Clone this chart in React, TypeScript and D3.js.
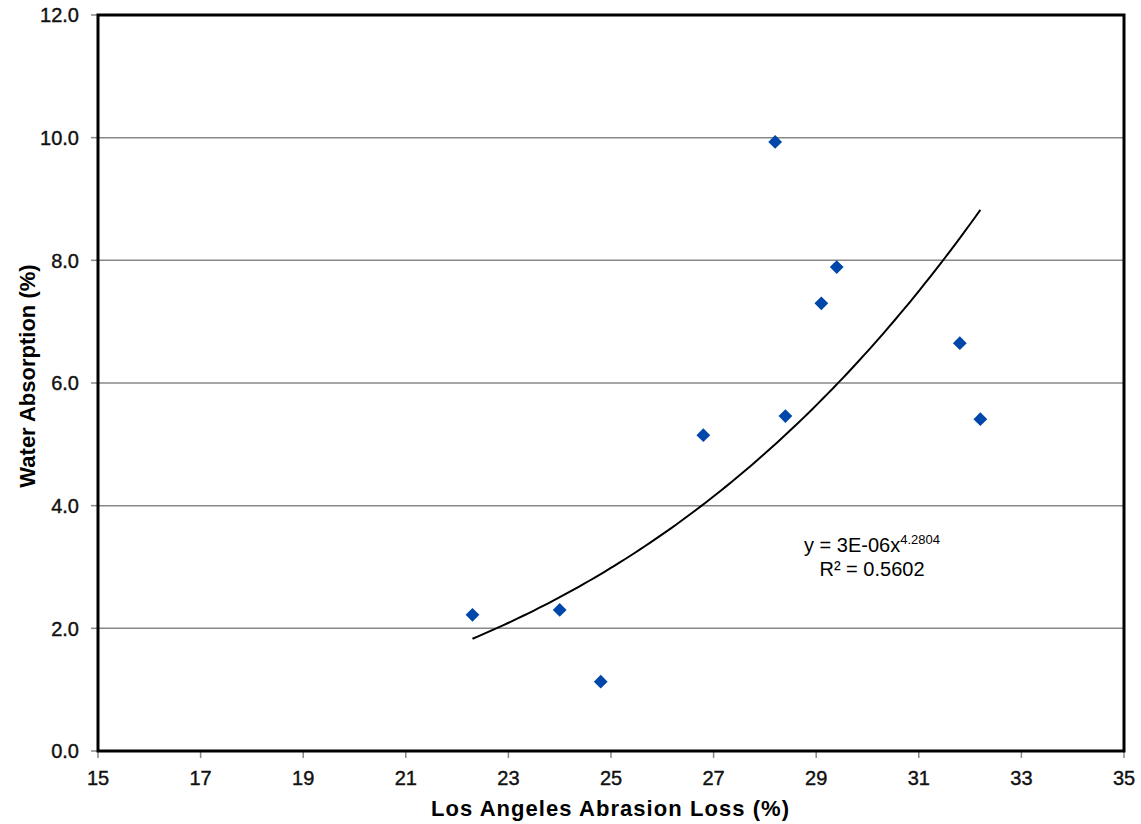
import React from "react";
import * as d3 from "d3";

const abrasionLoss = [22.3, 24.0, 24.8, 26.8, 28.4, 28.2, 29.1, 29.4, 31.8, 32.2];
const waterAbsorption = [2.22, 2.3, 1.13, 5.15, 5.46, 9.93, 7.3, 7.89, 6.65, 5.41];
const xTicks = [15, 17, 19, 21, 23, 25, 27, 29, 31, 33, 35];
const yTicks = [0, 2, 4, 6, 8, 10, 12];
const fitCoef = 3.1e-6;
const fitExp = 4.2804;
const eqLabel = "y = 3E-06x";
const eqExpLabel = "4.2804";
const r2Label = "R² = 0.5602";

const W = 1141;
const H = 824;
const M = { left: 98, right: 1124, top: 15, bottom: 751 };

export default function App() {
  const x = d3.scaleLinear().domain([15, 35]).range([M.left, M.right]);
  const y = d3.scaleLinear().domain([0, 12]).range([M.bottom, M.top]);
  const xMin = d3.min(abrasionLoss)!;
  const xMax = d3.max(abrasionLoss)!;
  const fitPts = d3.range(0, 101).map((i) => {
    const xv = xMin + ((xMax - xMin) * i) / 100;
    return [xv, fitCoef * Math.pow(xv, fitExp)] as [number, number];
  });
  const line = d3
    .line<[number, number]>()
    .x((d) => x(d[0]))
    .y((d) => y(d[1]));
  const diamond = d3.symbol(d3.symbolSquare, 95)();
  const font = "'Liberation Sans', Arial, sans-serif";
  return (
    <svg width={W} height={H} style={{ position: "absolute", left: 0, top: 0 }}>
      <rect x={0} y={0} width={W} height={H} fill="#fff" />
      {yTicks.filter((t) => t > 0 && t < 12).map((t) => (
        <line key={"g" + t} x1={M.left} x2={M.right} y1={y(t)} y2={y(t)} stroke="#888" strokeWidth={1.5} />
      ))}
      {yTicks.map((t) => (
        <g key={"yt" + t}>
          <line x1={M.left - 7} x2={M.left} y1={y(t)} y2={y(t)} stroke="#888" strokeWidth={1.5} />
          <text x={79} y={y(t)} dy="0.36em" textAnchor="end" fontFamily={font} fontSize={20} fill="#111" stroke="#111" strokeWidth={0.4}>
            {t.toFixed(1)}
          </text>
        </g>
      ))}
      {xTicks.map((t) => (
        <g key={"xt" + t}>
          <line x1={x(t)} x2={x(t)} y1={M.bottom} y2={M.bottom + 7} stroke="#888" strokeWidth={1.5} />
          <text x={x(t)} y={785} textAnchor="middle" fontFamily={font} fontSize={20} fill="#111" stroke="#111" strokeWidth={0.4}>
            {t}
          </text>
        </g>
      ))}
      <rect
        x={M.left}
        y={M.top}
        width={M.right - M.left}
        height={M.bottom - M.top}
        fill="none"
        stroke="#000"
        strokeWidth={3}
      />
      <path d={line(fitPts) ?? ""} fill="none" stroke="#000" strokeWidth={2} />
      {abrasionLoss.map((v, i) => (
        <path
          key={"p" + i}
          d={diamond ?? ""}
          transform={`translate(${x(v)},${y(waterAbsorption[i])}) rotate(45)`}
          fill="#0047AB"
        />
      ))}
      <text x={872} y={552} textAnchor="middle" fontFamily={font} fontSize={20} fill="#000">
        {eqLabel}
        <tspan dy={-8} fontSize={13}>{eqExpLabel}</tspan>
      </text>
      <text x={872} y={576} textAnchor="middle" fontFamily={font} fontSize={20} fill="#000">
        {r2Label}
      </text>
      <text
        x={610}
        y={816}
        textAnchor="middle"
        fontFamily={font}
        fontSize={22}
        fontWeight="bold"
        fill="#000"
        textLength={358}
        lengthAdjust="spacing"
      >
        Los Angeles Abrasion Loss (%)
      </text>
      <text
        transform={`translate(35,376) rotate(-90)`}
        textAnchor="middle"
        fontFamily={font}
        fontSize={22}
        fontWeight="bold"
        fill="#000"
      >
        Water Absorption (%)
      </text>
    </svg>
  );
}
